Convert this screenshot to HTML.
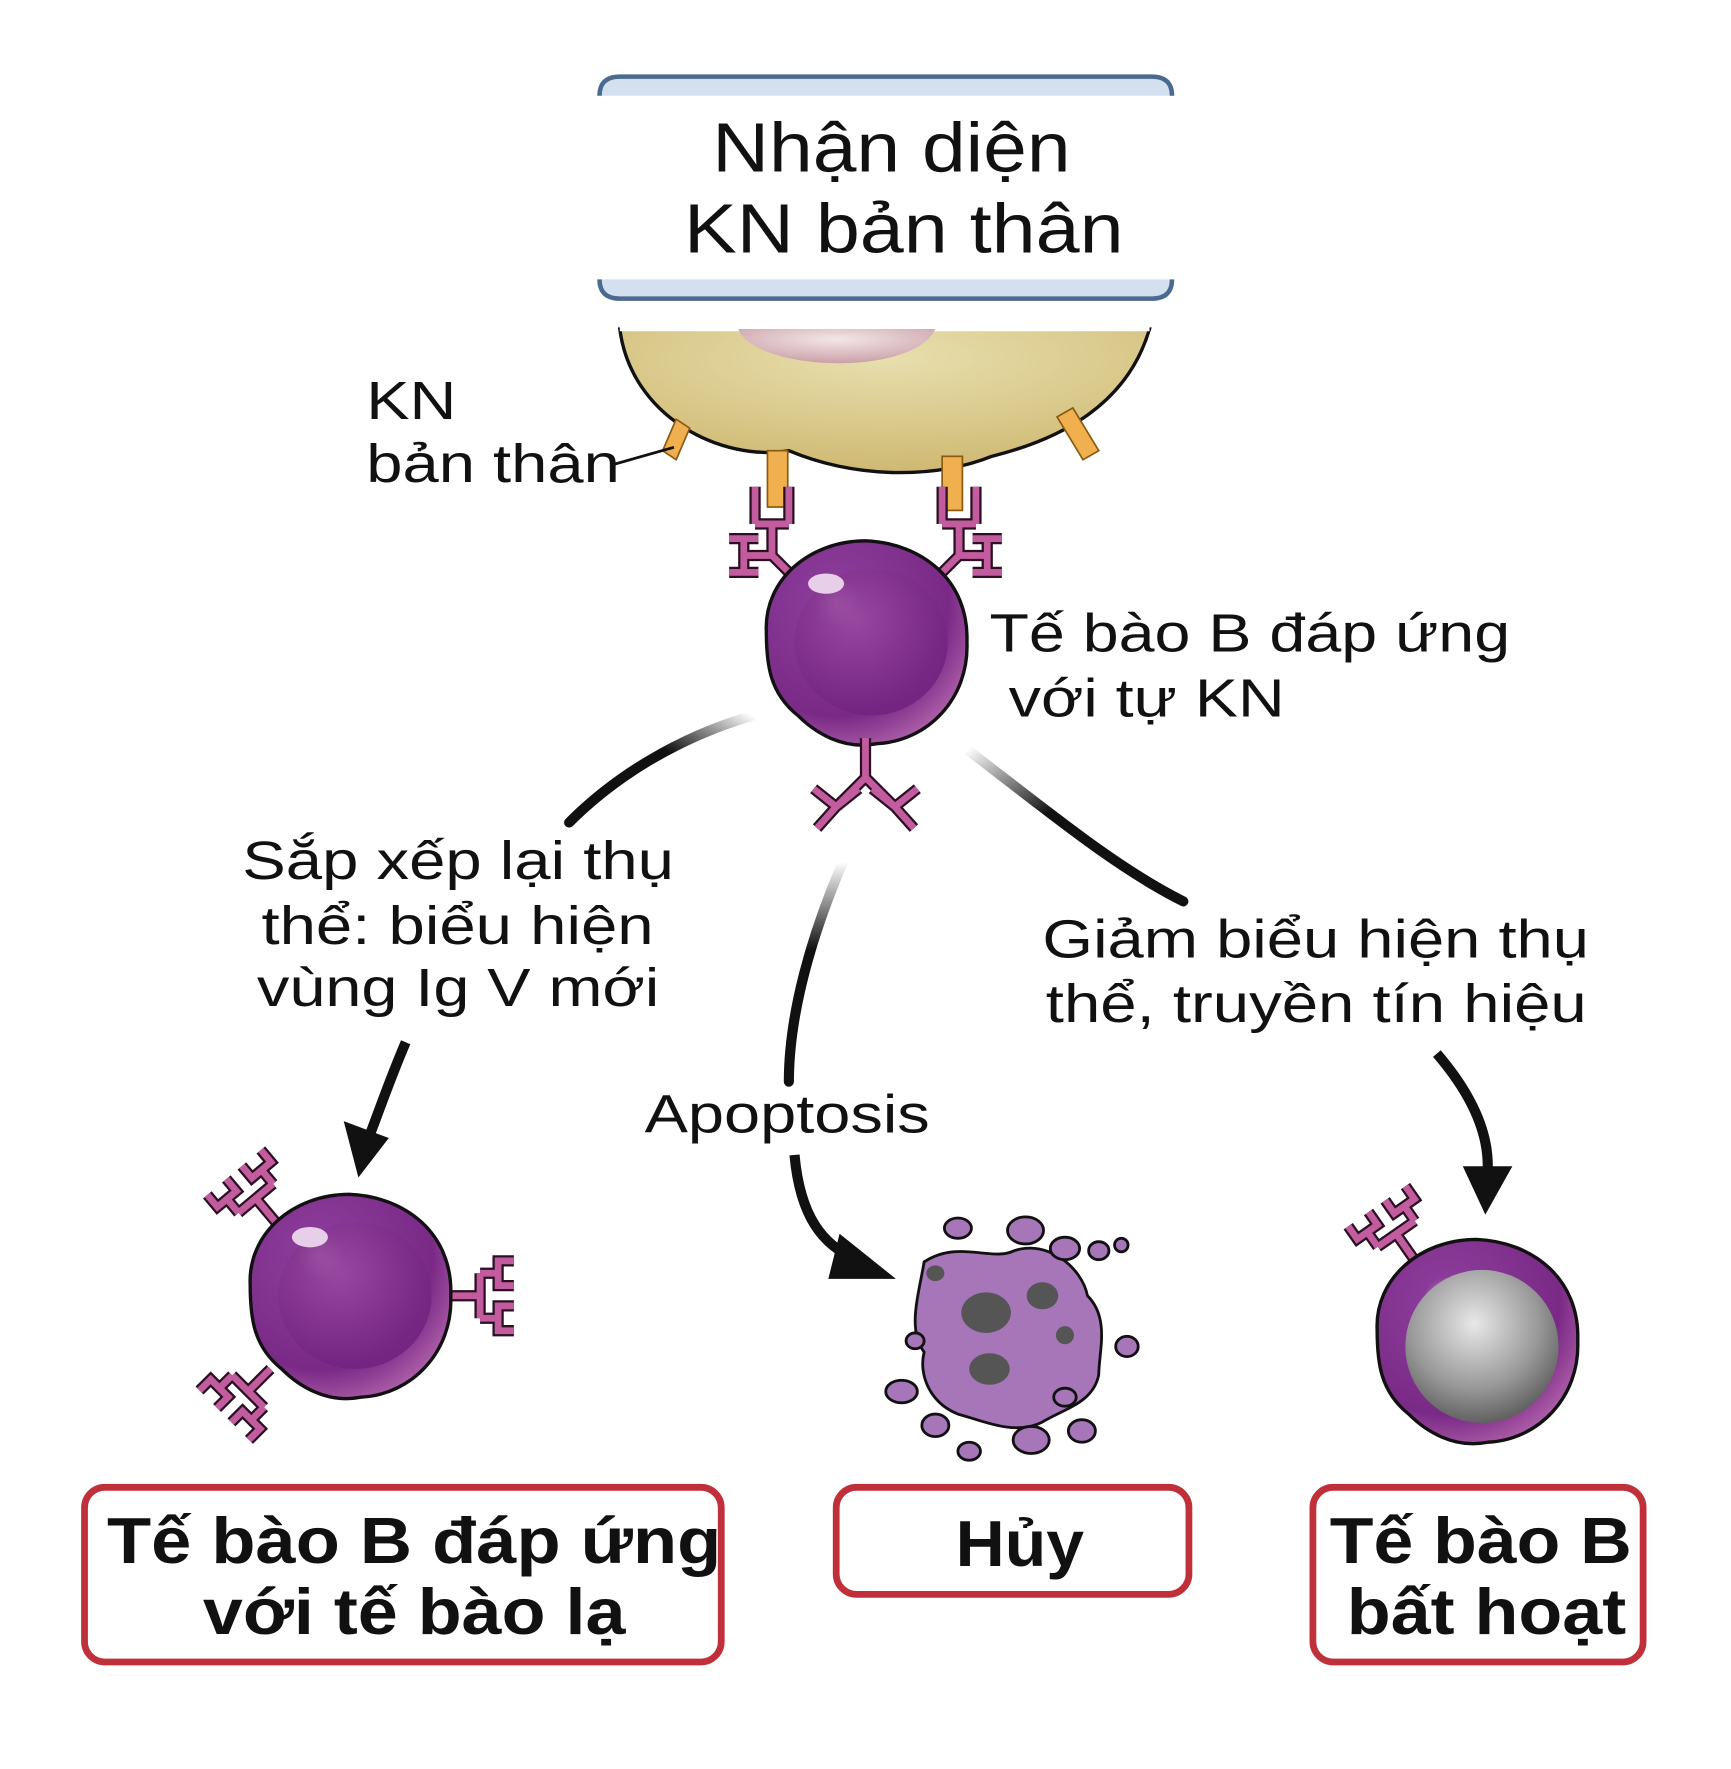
<!DOCTYPE html>
<html><head><meta charset="utf-8"><style>
html,body{margin:0;padding:0;background:#fff;}
svg{display:block}
text{font-family:"Liberation Sans",Arial,sans-serif;fill:#111}
</style></head><body>
<svg width="1731" height="1769" viewBox="0 0 1536 1570" preserveAspectRatio="none" xmlns="http://www.w3.org/2000/svg">
<defs>
<radialGradient id="cellg" cx="0.35" cy="0.3" r="0.8">
<stop offset="0" stop-color="#c79ad0"/><stop offset="0.15" stop-color="#8a3a98"/><stop offset="0.7" stop-color="#7a2a86"/><stop offset="1" stop-color="#b86ab0"/></radialGradient>
<radialGradient id="nucg" cx="0.4" cy="0.35" r="0.7">
<stop offset="0" stop-color="#9a4aa0"/><stop offset="1" stop-color="#6e1f7e"/></radialGradient>
<radialGradient id="greyg" cx="0.45" cy="0.35" r="0.7">
<stop offset="0" stop-color="#e8e8e8"/><stop offset="0.6" stop-color="#999"/><stop offset="1" stop-color="#555"/></radialGradient>
<radialGradient id="yel" cx="0.5" cy="0.2" r="0.9">
<stop offset="0" stop-color="#e8dfae"/><stop offset="1" stop-color="#cbb46a"/></radialGradient>
<radialGradient id="pink" cx="0.5" cy="0.3" r="0.7">
<stop offset="0" stop-color="#f3e6e8"/><stop offset="1" stop-color="#c9a0a8"/></radialGradient>
<linearGradient id="fadeL" x1="1" y1="0" x2="0" y2="1"><stop offset="0" stop-color="#111" stop-opacity="0"/><stop offset="0.4" stop-color="#111"/></linearGradient>
<linearGradient id="fadeR" x1="0" y1="0" x2="1" y2="1"><stop offset="0" stop-color="#111" stop-opacity="0"/><stop offset="0.4" stop-color="#111"/></linearGradient>
<linearGradient id="fadeM" x1="0" y1="0" x2="0" y2="1"><stop offset="0" stop-color="#111" stop-opacity="0"/><stop offset="0.4" stop-color="#111"/></linearGradient>
<g id="rec">
<path d="M0,0 V-28 M-20,-28 H20 M-20,-28 V-44 M20,-28 V-44 M-31,-58 V-44 H-9 V-58 M9,-58 V-44 H31 V-58" fill="none" stroke="#2a1022" stroke-width="10"/>
<path d="M0,0 V-28 M-20,-28 H20 M-20,-28 V-44 M20,-28 V-44 M-31,-58 V-44 H-9 V-58 M9,-58 V-44 H31 V-58" fill="none" stroke="#c25c9e" stroke-width="6"/>
</g>
<g id="topRec">
<path d="M707,515 L685,493 V465 M685,493 H660 M660,478 V508 M647,478 H673 M647,508 H673 M670,465 H700 M670,465 V432 M700,465 V432" fill="none" stroke="#2a1022" stroke-width="10"/>
<path d="M707,515 L685,493 V465 M685,493 H660 M660,478 V508 M647,478 H673 M647,508 H673 M670,465 H700 M670,465 V432 M700,465 V432" fill="none" stroke="#c25c9e" stroke-width="6"/>
</g>
<g id="cell">
<path d="M-88,-10 C-90,-55 -50,-90 0,-90 C50,-88 92,-55 90,0 C92,50 55,88 10,90 C-20,96 -45,80 -60,65 C-85,45 -88,20 -88,-10Z" fill="url(#cellg)" stroke="#111" stroke-width="3"/>
<ellipse cx="5" cy="0" rx="68" ry="65" fill="url(#nucg)" opacity="0.85"/>
<ellipse cx="-35" cy="-52" rx="16" ry="9" fill="#f2dff2" opacity="0.9"/>
</g>
</defs>

<!-- yellow self cell -->
<path d="M550,292 C560,370 640,410 700,400 C760,425 830,425 880,405 C940,390 1000,360 1020,292 Z" fill="url(#yel)" stroke="#111" stroke-width="3"/>
<path d="M550,292 H1020" stroke="#fff" stroke-width="4"/>
<path d="M655,292 C670,330 810,335 830,292 Z" fill="url(#pink)"/>
<g fill="#f0b050" stroke="#8a5a10" stroke-width="1.5">
<polygon points="600,372 612,380 600,408 588,400"/>
<rect x="681" y="400" width="18" height="50"/>
<rect x="836" y="405" width="18" height="48"/>
<polygon points="938,370 952,362 975,400 961,408"/>
</g>

<!-- top box -->
<path d="M532,85 Q532,68 550,68 H1022 Q1040,68 1040,85" fill="#d3e0ef" stroke="#4a6a90" stroke-width="4"/>
<path d="M532,248 Q532,265 550,265 H1022 Q1040,265 1040,248" fill="#d3e0ef" stroke="#4a6a90" stroke-width="4"/>
<rect x="530" y="86" width="512" height="161" fill="#fff"/>
<text x="632" y="152" font-size="62" textLength="318" lengthAdjust="spacingAndGlyphs">Nhận diện</text>
<text x="607" y="224" font-size="62" textLength="390" lengthAdjust="spacingAndGlyphs">KN bản thân</text>

<text x="325" y="372" font-size="48" textLength="80" lengthAdjust="spacingAndGlyphs">KN</text>
<text x="325" y="428" font-size="48" textLength="225" lengthAdjust="spacingAndGlyphs">bản thân</text>
<path d="M545,412 L598,397" stroke="#111" stroke-width="2.5"/>

<!-- top B cell -->
<use href="#topRec"/>
<g transform="translate(1536,0) scale(-1,1)"><use href="#topRec"/></g>
<use href="#cell" x="768" y="570"/>
<g>
<path d="M768,655 V690 M768,690 L742,716 M768,690 L794,716 M722,700 L742,716 L762,700 M742,716 L725,735 M774,700 L794,716 L814,700 M794,716 L811,735" fill="none" stroke="#2a1022" stroke-width="10"/>
<path d="M768,655 V690 M768,690 L742,716 M768,690 L794,716 M722,700 L742,716 L762,700 M742,716 L725,735 M774,700 L794,716 L814,700 M794,716 L811,735" fill="none" stroke="#c25c9e" stroke-width="6"/>
</g>
<text x="878" y="578" font-size="48" textLength="462" lengthAdjust="spacingAndGlyphs">Tế bào B đáp ứng</text>
<text x="895" y="636" font-size="48" textLength="245" lengthAdjust="spacingAndGlyphs">với tự KN</text>

<!-- connectors -->
<path d="M668,635 C600,655 545,690 505,730" fill="none" stroke="url(#fadeL)" stroke-width="9" stroke-linecap="round"/>
<text x="215" y="780" font-size="48" textLength="383" lengthAdjust="spacingAndGlyphs">Sắp xếp lại thụ</text>
<text x="232" y="838" font-size="48" textLength="348" lengthAdjust="spacingAndGlyphs">thể: biểu hiện</text>
<text x="228" y="893" font-size="48" textLength="357" lengthAdjust="spacingAndGlyphs">vùng Ig V mới</text>
<path d="M360,925 C345,960 335,990 327,1010" fill="none" stroke="#111" stroke-width="9"/>
<polygon points="305,995 345,1010 318,1045" fill="#111"/>

<path d="M748,765 C720,830 700,900 700,960" fill="none" stroke="url(#fadeM)" stroke-width="9" stroke-linecap="round"/>
<text x="572" y="1005" font-size="48" textLength="253" lengthAdjust="spacingAndGlyphs">Apoptosis</text>
<path d="M705,1025 C710,1080 730,1105 760,1118" fill="none" stroke="#111" stroke-width="9"/>
<polygon points="745,1095 795,1135 735,1135" fill="#111"/>

<path d="M858,665 C930,720 990,770 1050,800" fill="none" stroke="url(#fadeR)" stroke-width="9" stroke-linecap="round"/>
<text x="925" y="850" font-size="48" textLength="485" lengthAdjust="spacingAndGlyphs">Giảm biểu hiện thụ</text>
<text x="928" y="907" font-size="48" textLength="480" lengthAdjust="spacingAndGlyphs">thể, truyền tín hiệu</text>
<path d="M1275,935 C1305,970 1322,1005 1320,1040" fill="none" stroke="#111" stroke-width="9"/>
<polygon points="1298,1035 1342,1035 1318,1078" fill="#111"/>

<!-- bottom left cell -->
<use href="#rec" transform="translate(245,1085) rotate(-40)"/>
<use href="#rec" transform="translate(240,1215) rotate(-135)"/>
<use href="#rec" transform="translate(398,1150) rotate(90)"/>
<use href="#cell" x="310" y="1150"/>

<!-- apoptotic cell -->
<g stroke="#111" stroke-width="2.5" fill="#a676b8">
<path d="M820,1120 C850,1100 880,1120 900,1110 C930,1100 960,1125 965,1150 C985,1170 975,1200 975,1220 C970,1245 945,1250 925,1262 C900,1275 870,1260 850,1255 C825,1245 815,1220 820,1200 C805,1180 815,1150 820,1120Z"/>
<ellipse cx="850" cy="1090" rx="12" ry="9"/><ellipse cx="910" cy="1092" rx="16" ry="12"/><ellipse cx="945" cy="1108" rx="13" ry="10"/><ellipse cx="975" cy="1110" rx="9" ry="8"/><ellipse cx="995" cy="1105" rx="6" ry="6"/>
<ellipse cx="1000" cy="1195" rx="10" ry="9"/><ellipse cx="800" cy="1235" rx="14" ry="10"/><ellipse cx="830" cy="1265" rx="12" ry="10"/><ellipse cx="860" cy="1288" rx="10" ry="8"/><ellipse cx="915" cy="1278" rx="16" ry="12"/><ellipse cx="960" cy="1270" rx="12" ry="10"/><ellipse cx="945" cy="1240" rx="10" ry="8"/><ellipse cx="812" cy="1190" rx="8" ry="7"/>
</g>
<g fill="#555"><ellipse cx="875" cy="1165" rx="22" ry="18"/><ellipse cx="878" cy="1215" rx="18" ry="14"/><ellipse cx="925" cy="1150" rx="14" ry="12"/><ellipse cx="945" cy="1185" rx="8" ry="8"/><ellipse cx="830" cy="1130" rx="8" ry="7"/></g>

<!-- inactive cell -->
<use href="#rec" transform="translate(1255,1118) rotate(-35)"/>
<g transform="translate(1310,1190)">
<path d="M-88,-10 C-90,-55 -50,-90 0,-90 C50,-88 92,-55 90,0 C92,50 55,88 10,90 C-20,96 -45,80 -60,65 C-85,45 -88,20 -88,-10Z" fill="url(#cellg)" stroke="#111" stroke-width="3"/>
<ellipse cx="5" cy="5" rx="68" ry="68" fill="url(#greyg)"/>
</g>

<!-- bottom boxes -->
<g fill="#fff" stroke="#c0303a" stroke-width="6">
<rect x="75" y="1320" width="565" height="155" rx="18"/>
<rect x="742" y="1320" width="313" height="95" rx="18"/>
<rect x="1165" y="1320" width="293" height="155" rx="18"/>
</g>
<g font-weight="bold" font-size="58">
<text x="95" y="1387" textLength="545" lengthAdjust="spacingAndGlyphs">Tế bào B đáp ứng</text>
<text x="180" y="1450" textLength="375" lengthAdjust="spacingAndGlyphs">với tế bào lạ</text>
<text x="848" y="1390" textLength="114" lengthAdjust="spacingAndGlyphs">Hủy</text>
<text x="1180" y="1387" textLength="268" lengthAdjust="spacingAndGlyphs">Tế bào B</text>
<text x="1195" y="1450" textLength="248" lengthAdjust="spacingAndGlyphs">bất hoạt</text>
</g>
</svg>
</body></html>
